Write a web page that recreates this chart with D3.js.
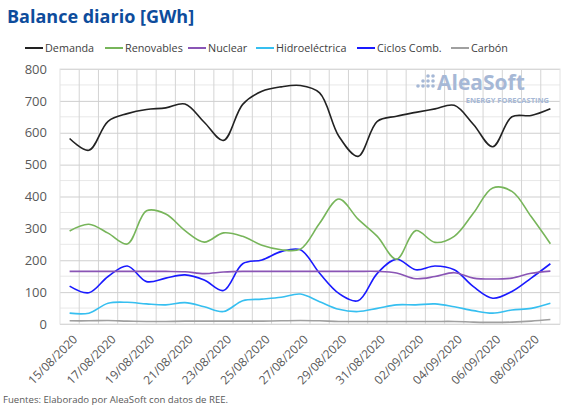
<!DOCTYPE html>
<html>
<head>
<meta charset="utf-8">
<script src="https://cdn.jsdelivr.net/npm/d3@7"></script>
<style>
  body { margin: 0; background: #fff; }
  svg { display: block; font-family: "Open Sans", sans-serif; }
</style>
</head>
<body>
<div class="svg-container"></div>
<script>
// fechas diarias 15/08/2020 - 09/09/2020
var dates = ["15/08/2020","16/08/2020","17/08/2020","18/08/2020","19/08/2020","20/08/2020",
             "21/08/2020","22/08/2020","23/08/2020","24/08/2020","25/08/2020","26/08/2020",
             "27/08/2020","28/08/2020","29/08/2020","30/08/2020","31/08/2020","01/09/2020",
             "02/09/2020","03/09/2020","04/09/2020","05/09/2020","06/09/2020","07/09/2020",
             "08/09/2020","09/09/2020"];

var demanda     = [582,545,636,660,673,678,690,633,576,689,730,744,748,725,589,526,636,652,664,675,686,626,556,650,654,675];
var renovables  = [292,313,285,251,355,345,293,257,286,275,247,233,235,316,392,329,275,203,293,256,275,348,427,416,337,252];
var nuclear     = [165,165,165,165,165,165,164,158,163,165,165,165,165,165,165,165,165,160,142,149,161,144,141,144,159,166];
var hidro       = [34,34,65,68,63,60,67,54,39,73,78,84,94,70,46,39,49,60,60,63,54,42,34,44,49,65];
var ciclos      = [119,98,149,182,133,144,154,138,105,189,201,227,233,159,96,73,159,203,170,182,170,117,81,102,144,189];
var carbon      = [10,10,11,9,8,8,9,9,9,9,9,10,11,10,8,8,8,8,8,8,8,6,5,6,9,14];

var seriesNames  = ["Demanda","Renovables","Nuclear","Hidroeléctrica","Ciclos Comb.","Carbón"];
var seriesColors = ["#222222","#77b55a","#8a55b5","#36bff0","#1a1aff","#a0a0a0"];
var yTicks = [0,100,200,300,400,500,600,700,800];

var width = 573, height = 408;
var margin = { top: 69, right: 13, bottom: 84, left: 60 };

var svg = d3.select(".svg-container").append("svg")
    .attr("width", width)
    .attr("height", height);

var x = d3.scalePoint().domain(dates).range([margin.left, width - margin.right]).padding(0.5);
var xBand = d3.scaleBand().domain(dates).range([margin.left, width - margin.right]);
var y = d3.scaleLinear().domain([0, 800]).range([height - margin.bottom, margin.top]);

// title
svg.append("text")
    .attr("x", 7).attr("y", 23)
    .attr("font-size", 18).attr("font-weight", "bold")
    .attr("fill", "#0d4c9c")
    .text("Balance diario [GWh]");

// minor horizontal grid (50)
var minor = d3.range(50, 800, 100);
svg.append("g").selectAll("line").data(minor).enter().append("line")
    .attr("x1", margin.left).attr("x2", width - margin.right)
    .attr("y1", function (d) { return y(d); }).attr("y2", function (d) { return y(d); })
    .attr("stroke", "#e8e8e8").attr("stroke-width", 1);

// vertical grid at category boundaries
svg.append("g").selectAll("line").data(dates.slice(1)).enter().append("line")
    .attr("x1", function (d) { return xBand(d); }).attr("x2", function (d) { return xBand(d); })
    .attr("y1", margin.top).attr("y2", height - margin.bottom)
    .attr("stroke", "#d4d4d4").attr("stroke-width", 1);

// y axis with major grid
var yAxis = svg.append("g")
    .attr("transform", "translate(" + margin.left + ",0)")
    .call(d3.axisLeft(y).tickValues(yTicks).tickSize(-(width - margin.left - margin.right)).tickPadding(13));
yAxis.select(".domain").remove();
yAxis.selectAll(".tick line").attr("stroke", "#cfcfcf");
yAxis.selectAll(".tick text").attr("fill", "#595959").attr("font-size", 13)
    .attr("font-family", "Open Sans, sans-serif");

// plot frame
svg.append("rect")
    .attr("x", margin.left).attr("y", margin.top)
    .attr("width", width - margin.left - margin.right)
    .attr("height", height - margin.top - margin.bottom)
    .attr("fill", "none").attr("stroke", "#e2e2e2");

// x axis labels, every second day
var xAxis = svg.append("g")
    .attr("transform", "translate(0," + (height - margin.bottom) + ")")
    .call(d3.axisBottom(x).tickValues(dates.filter(function (d, i) { return i % 2 === 0; })).tickSize(0));
xAxis.select(".domain").remove();
xAxis.selectAll(".tick text")
    .attr("fill", "#595959").attr("font-size", 12)
    .attr("font-family", "Open Sans, sans-serif")
    .attr("text-anchor", "end")
    .attr("dy", "0.35em")
    .attr("transform", "translate(3,11) rotate(-45)");

// watermark logo
var logo = svg.append("g").attr("fill", "#a6b8d6");
var dots = [[418,86],[423,86],[428,86],[423,81],[428,81],[428,76],[433,76],[433,81],[433,86]];
logo.selectAll("circle").data(dots).enter().append("circle")
    .attr("cx", function (d) { return d[0]; }).attr("cy", function (d) { return d[1]; })
    .attr("r", 1.8);
logo.append("text").attr("x", 437).attr("y", 90)
    .attr("font-size", 21).attr("font-weight", "bold")
    .attr("font-family", "Open Sans, sans-serif")
    .text("AleaSoft");
logo.append("text").attr("x", 549).attr("y", 102.5)
    .attr("text-anchor", "end")
    .attr("font-size", 7.5).attr("font-weight", "bold")
    .attr("font-family", "Open Sans, sans-serif")
    .text("ENERGY FORECASTING");

// lines
var allSeries = [demanda, renovables, nuclear, hidro, ciclos, carbon];
var line = d3.line()
    .x(function (d, i) { return x(dates[i]); })
    .y(function (d) { return y(d); })
    .curve(d3.curveCatmullRom.alpha(0.5));

svg.append("g").selectAll("path").data(allSeries.slice().reverse()).enter().append("path")
    .attr("d", function (d) { return line(d); })
    .attr("fill", "none")
    .attr("stroke", function (d, i) { return seriesColors[allSeries.length - 1 - i]; })
    .attr("stroke-width", 1.6);

// legend
var legendX = [25, 105, 188, 256, 357, 451];
var legend = svg.append("g").selectAll("g").data(seriesNames).enter().append("g")
    .attr("transform", function (d, i) { return "translate(" + legendX[i] + ",48)"; });
legend.append("line")
    .attr("x1", 0).attr("x2", 18).attr("y1", 0).attr("y2", 0)
    .attr("stroke", function (d, i) { return seriesColors[i]; })
    .attr("stroke-width", 2);
legend.append("text")
    .attr("x", 20).attr("y", 4)
    .attr("font-size", 10.8).attr("fill", "#404040")
    .text(function (d) { return d; });

// source
svg.append("text")
    .attr("x", 3).attr("y", 403)
    .attr("font-size", 9.6).attr("fill", "#595959")
    .text("Fuentes: Elaborado por AleaSoft con datos de REE.");
</script>
</body>
</html>
